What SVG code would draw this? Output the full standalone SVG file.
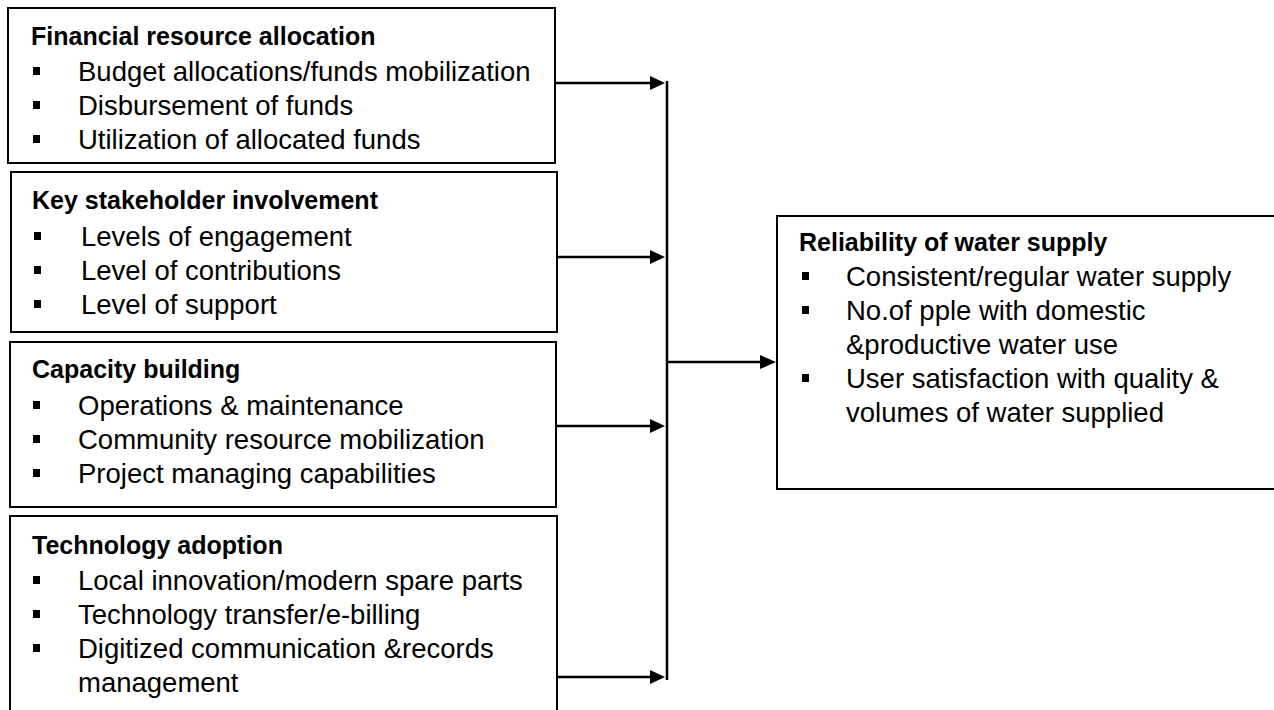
<svg xmlns="http://www.w3.org/2000/svg" width="1274" height="710" viewBox="0 0 1274 710">
<defs>
<style>
.box{fill:#fff;stroke:#000;stroke-width:2}
.t{font-family:"Liberation Sans",Arial,sans-serif;font-size:27.5px;fill:#000}
.h{font-weight:bold;font-size:25px}
.b{fill:#000}
.c{stroke:#000;stroke-width:2.5;fill:none}
</style>
</defs>
<rect width="1274" height="710" fill="#fff"/>
<g id="connectors">
<line class="c" x1="667" y1="81" x2="667" y2="680"/>
<path d="M555,83 H652" class="c"/><path d="M650,76 L665,83 L650,90 z" class="b"/>
<path d="M555,257 H652" class="c"/><path d="M650,250 L665,257 L650,264 z" class="b"/>
<path d="M555,426 H652" class="c"/><path d="M650,419 L665,426 L650,433 z" class="b"/>
<path d="M557,677 H652" class="c"/><path d="M650,670 L665,677 L650,684 z" class="b"/>
<path d="M667,362 H762" class="c"/><path d="M760,355 L776,362 L760,369 z" class="b"/>
</g>
<g id="financial">
<rect class="box" x="8" y="8" width="547" height="155"/>
<text class="t h" x="31" y="45">Financial resource allocation</text>
<rect class="b" x="33" y="67" width="7" height="8"/><text class="t" x="78" y="81">Budget allocations/funds mobilization</text>
<rect class="b" x="33" y="101" width="7" height="8"/><text class="t" x="78" y="115">Disbursement of funds</text>
<rect class="b" x="33" y="135" width="7" height="8"/><text class="t" x="78" y="149">Utilization of allocated funds</text>
</g>
<g id="stakeholder">
<rect class="box" x="11" y="172" width="546" height="160"/>
<text class="t h" x="32" y="209">Key stakeholder involvement</text>
<rect class="b" x="34" y="232" width="7" height="8"/><text class="t" x="81" y="246">Levels of engagement</text>
<rect class="b" x="34" y="266" width="7" height="8"/><text class="t" x="81" y="280">Level of contributions</text>
<rect class="b" x="34" y="300" width="7" height="8"/><text class="t" x="81" y="314">Level of support</text>
</g>
<g id="capacity">
<rect class="box" x="10" y="342" width="546" height="165"/>
<text class="t h" x="32" y="378">Capacity building</text>
<rect class="b" x="33" y="401" width="7" height="8"/><text class="t" x="78" y="415">Operations &amp; maintenance</text>
<rect class="b" x="33" y="435" width="7" height="8"/><text class="t" x="78" y="449">Community resource mobilization</text>
<rect class="b" x="33" y="469" width="7" height="8"/><text class="t" x="78" y="483">Project managing capabilities</text>
</g>
<g id="technology">
<rect class="box" x="10" y="516" width="547" height="200"/>
<text class="t h" x="32" y="554">Technology adoption</text>
<rect class="b" x="33" y="576" width="7" height="8"/><text class="t" x="78" y="590">Local innovation/modern spare parts</text>
<rect class="b" x="33" y="610" width="7" height="8"/><text class="t" x="78" y="624">Technology transfer/e-billing</text>
<rect class="b" x="33" y="644" width="7" height="8"/><text class="t" x="78" y="658">Digitized communication &amp;records</text>
<text class="t" x="78" y="692">management</text>
</g>
<g id="reliability">
<rect class="box" x="777" y="216" width="510" height="273"/>
<text class="t h" x="799" y="251">Reliability of water supply</text>
<rect class="b" x="802" y="272" width="7" height="8"/><text class="t" x="846" y="286">Consistent/regular water supply</text>
<rect class="b" x="802" y="306" width="7" height="8"/><text class="t" x="846" y="320">No.of pple with domestic</text>
<text class="t" x="846" y="354">&amp;productive water use</text>
<rect class="b" x="802" y="374" width="7" height="8"/><text class="t" x="846" y="388">User satisfaction with quality &amp;</text>
<text class="t" x="846" y="422">volumes of water supplied</text>
</g>
</svg>
